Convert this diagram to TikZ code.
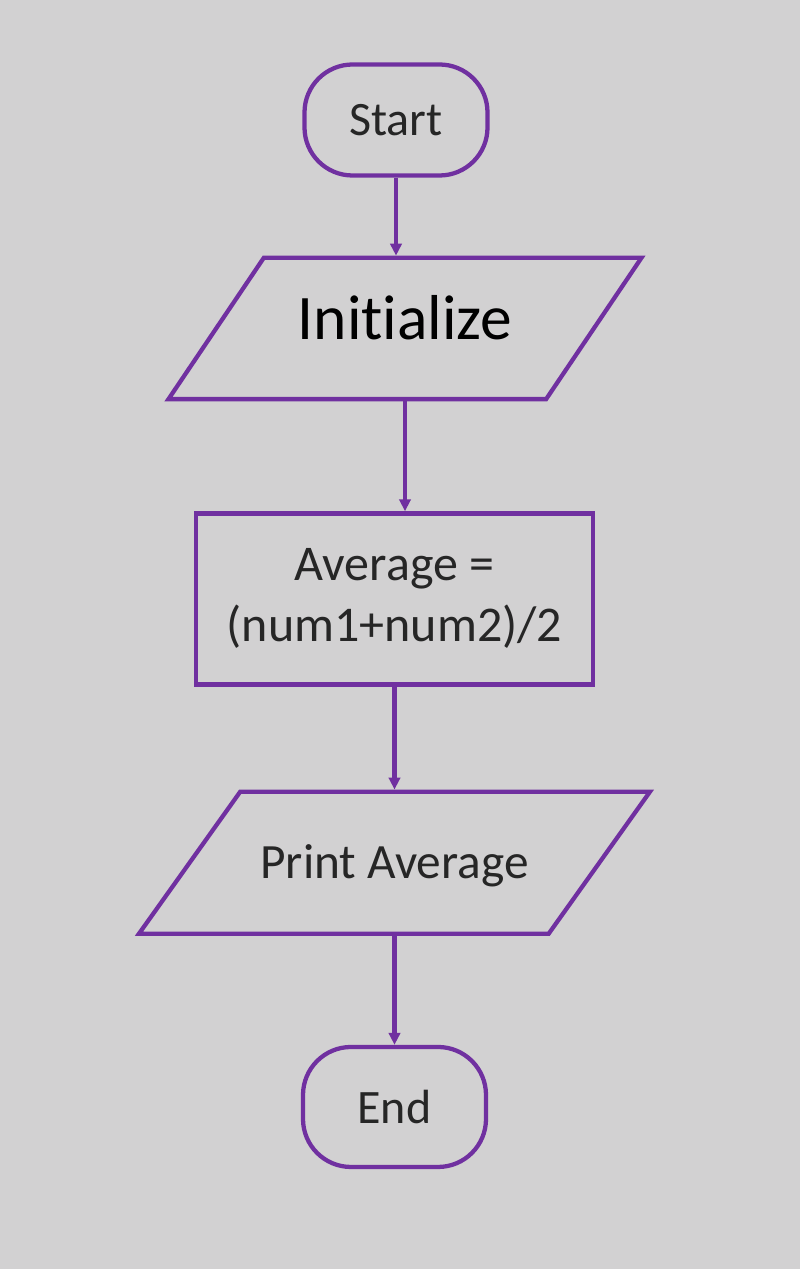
\documentclass[tikz,border=0pt]{standalone}
\usepackage{fontspec}
\setmainfont{Carlito}[Ligatures=CommonOff]
\usetikzlibrary{shapes.geometric,positioning,arrows.meta}
\definecolor{flowpurple}{HTML}{7030A0}
\definecolor{flowbg}{HTML}{D2D1D2}
\definecolor{flowtext}{HTML}{262626}
\tikzset{
  termbox/.style={draw=flowpurple, line width=3.2pt, rounded corners=36pt,
        minimum width=137.25pt, text=flowtext,
        font=\fontsize{36}{43}\selectfont},
  iobox/.style={trapezium, trapezium left angle=56, trapezium right angle=124,
        trapezium stretches body, draw=flowpurple, line width=3.2pt,
        text=flowtext, font=\fontsize{37}{44}\selectfont},
  procbox/.style={draw=flowpurple, line width=3.2pt, align=center,
        minimum width=297.75pt, minimum height=128.25pt, text=flowtext,
        font=\fontsize{37.5}{45.75}\selectfont},
  flowarr/.style={draw=flowpurple, line width=3.2pt,
        -{Triangle[width=8.5pt,length=9pt]}}
}

\begin{document}
\begin{tikzpicture}[x=0.75pt, y=-0.75pt]

  \fill[flowbg] (0,0) rectangle (800,1269);

  \node[termbox, minimum height=83.25pt] (start) at (396,120) {Start};

  \node[iobox, minimum width=354.75pt, text=black,
        font=\fontsize{47.6}{57}\selectfont,
        text height=36pt, text depth=19pt, inner ysep=25.5pt,
        below = 58.5pt of start, xshift=6.75pt] (init) {Initialize};

  \node[procbox, below = 82.5pt of init, xshift=-7.875pt] (calc) {%
    Average =\\(num1+num2)/2};

  \node[iobox, minimum width=383.25pt,
        trapezium left angle=54.5, trapezium right angle=125.5,
        text height=30pt, text depth=6.2pt, inner ysep=35.15pt,
        below = 77.25pt of calc] (print) {Print Average};

  \node[termbox, minimum height=90pt, below = 81.75pt of print] (end) {End};

  \draw[flowarr] (start.south) -- (start.south |- init.north);
  \draw[flowarr] (init.south) -- (init.south |- calc.north);
  \draw[flowarr] (calc.south) -- (calc.south |- print.north);
  \draw[flowarr] (print.south) -- (end.north);

\end{tikzpicture}
\end{document}
